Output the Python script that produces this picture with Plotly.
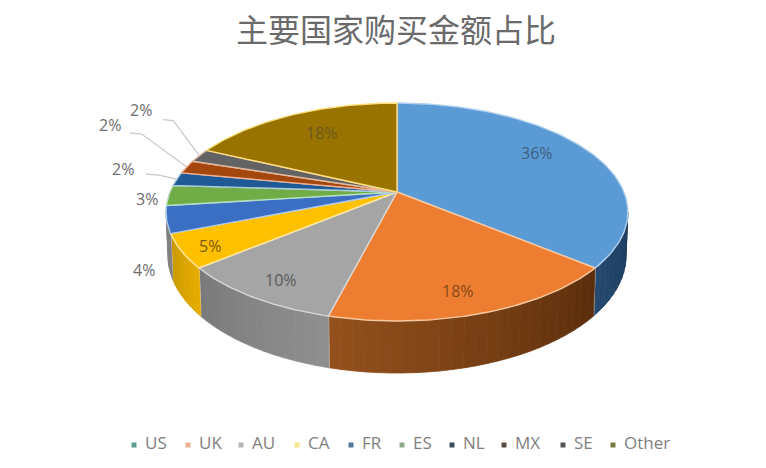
import math
import plotly.graph_objects as go

title = "主要国家购买金额占比"
categories = ["US", "UK", "AU", "CA", "FR", "ES", "NL", "MX", "SE", "Other"]
values = [36, 18, 10, 5, 4, 3, 2, 2, 2, 18]
top_colors = ["#5b9bd5", "#ed7d31", "#a5a5a5", "#ffc000", "#3a6fc4", "#70ad47", "#1f5a96", "#a3470f", "#636363", "#997300"]
edge_colors = ["#b4d2ee", "#f8c9a0", "#d8d8d8", "#ffe9a0", "#a8c8ec", "#b8e0c0", "#a8c8dc", "#f0b090", "#e0b8a0", "#ffe080"]
wall_start = ["#1b3a5c", "#5c2e0c", "#8f8f8f", "#e6ab00", "#808080", "#808080", "#808080", "#808080", "#808080", "#808080"]
wall_end = ["#25496f", "#93501c", "#7a7a7a", "#c99a00", "#808080", "#808080", "#808080", "#808080", "#808080", "#808080"]
legend_colors = ["#5a9e8f", "#e8b090", "#b5b5b5", "#f0e68a", "#4f7a9a", "#8fa88a", "#3a4a5a", "#5a4a42", "#555555", "#7a7a40"]
label_colors = ["#3f5f80", "#8a4a18", "#5a5a5a", "#7a5a10", "#6e6e6e", "#6e6e6e", "#6e6e6e", "#6e6e6e", "#6e6e6e", "#6b5a20"]
# label anchor radius (fraction of the pie radius) and pixel nudges
label_r = [0.72, 0.72, 0.72, 0.72, 1.0, 1.0, 1.0, 1.0, 1.0, 0.72]
label_dx = [0, 3, -17, -36, -23, -22, -54, -77, -58, 4]
label_dy = [-8, 17, 16, 13, 51, 4, -10, -42, -46, -1]
# legend row
legend_x = [134, 188, 241, 297, 351, 402, 452, 504, 563, 613]
legend_y = 445
legend_gap = 11

# projection of the tilted disc
CX, CY, A, B, K, DEPTH = 397, 192, 227, 105.3, 0.1835, 42.5


def proj(deg, r=1.0, d=0.0):
    s, c = math.sin(math.radians(deg)) * r, math.cos(math.radians(deg)) * r
    w = 1 + K * c
    return CX + A * s / w * (1 - 0.0002 * d), CY - B * c / w + d / w


def arc(a0, a1, d=0.0):
    n = max(2, int(abs(a1 - a0)) + 1)
    return [proj(a0 + (a1 - a0) * i / n, 1.0, d) for i in range(n + 1)]


def mix(c0, c1, t):
    a = [int(c0[i:i + 2], 16) for i in (1, 3, 5)]
    b = [int(c1[i:i + 2], 16) for i in (1, 3, 5)]
    return "#%02x%02x%02x" % tuple(round(p + (q - p) * t) for p, q in zip(a, b))


total = sum(values)
edges = [0.0]
for v in values:
    edges.append(edges[-1] + v / total * 360)

fig = go.Figure()
vis0 = math.degrees(math.acos(-K))
vis1 = 360 - vis0

# side wall
for i in range(len(values)):
    a0, a1 = max(edges[i], vis0), min(edges[i + 1], vis1)
    if a1 <= a0:
        continue
    n = max(1, int((a1 - a0) / 2.5))
    for j in range(n):
        b0, b1 = a0 + (a1 - a0) * j / n, a0 + (a1 - a0) * (j + 1) / n
        pts = arc(b0, b1) + arc(b1, b0, DEPTH)
        col = mix(wall_start[i], wall_end[i], j / max(1, n - 1))
        fig.add_trace(go.Scatter(
            x=[p[0] for p in pts] + [pts[0][0]], y=[p[1] for p in pts] + [pts[0][1]],
            mode="lines", fill="toself", fillcolor=col, line=dict(color=col, width=0.8),
            hoverinfo="skip", showlegend=False))
    # light seam at the end of each wall slice
    if edges[i + 1] < vis1:
        seam = [proj(edges[i + 1]), proj(edges[i + 1], 1.0, DEPTH)]
        fig.add_trace(go.Scatter(x=[p[0] for p in seam], y=[p[1] for p in seam], mode="lines",
                                 line=dict(color="#e6e0da", width=1.5), hoverinfo="skip", showlegend=False))

# top face
for i, cat in enumerate(categories):
    pts = [(CX, CY)] + arc(edges[i], edges[i + 1]) + [(CX, CY)]
    fig.add_trace(go.Scatter(
        x=[p[0] for p in pts], y=[p[1] for p in pts], mode="lines", fill="toself",
        fillcolor=top_colors[i], line=dict(color=edge_colors[i], width=1.4),
        name=cat, hoverinfo="name", showlegend=False))

# leader lines for the three smallest slices
leader_idx = [6, 7, 8]
leader_elbow = [(-18, -4), (-45, -33), (-26, -35)]
leader_tail = [-13, -12, -10]
for idx, (ex, ey), tail in zip(leader_idx, leader_elbow, leader_tail):
    x0, y0 = proj((edges[idx] + edges[idx + 1]) / 2)
    fig.add_trace(go.Scatter(
        x=[x0, x0 + ex, x0 + ex + tail], y=[y0, y0 + ey, y0 + ey - 1], mode="lines",
        line=dict(color="#c8c8c8", width=1.2), hoverinfo="skip", showlegend=False))

# legend row
fig.add_trace(go.Scatter(x=legend_x, y=[legend_y] * len(legend_x), mode="markers",
                         marker=dict(symbol="square", size=5, color=legend_colors),
                         hoverinfo="skip", showlegend=False))
fig.add_trace(go.Scatter(x=[v + legend_gap for v in legend_x], y=[legend_y] * len(legend_x),
                         mode="text", text=categories, textposition="middle right",
                         textfont=dict(size=17, color="#7f7f7f", family="Open Sans"),
                         hoverinfo="skip", showlegend=False))

annotations = []
for i, v in enumerate(values):
    x, y = proj((edges[i] + edges[i + 1]) / 2, label_r[i])
    annotations.append(dict(x=x, y=y, xref="x", yref="y", text=f"{v}%", showarrow=False,
                            xshift=label_dx[i], yshift=-label_dy[i],
                            font=dict(size=16, color=label_colors[i], family="Open Sans")))

fig.update_layout(
    width=766, height=468, margin=dict(l=0, r=0, t=0, b=0, autoexpand=False),
    paper_bgcolor="#ffffff", plot_bgcolor="#ffffff",
    title=dict(text=title, x=396 / 766, xanchor="center", y=1 - 31 / 468, yanchor="middle",
               font=dict(size=32, color="#6a6a6a", family="Noto Sans CJK SC")),
    xaxis=dict(range=[0, 766], visible=False, fixedrange=True),
    yaxis=dict(range=[468, 0], visible=False, fixedrange=True),
    annotations=annotations,
    showlegend=False,
)
fig.write_html("out.html", config={"displayModeBar": False},
               post_script="document.body.style.margin='0';document.body.style.overflow='hidden';")
